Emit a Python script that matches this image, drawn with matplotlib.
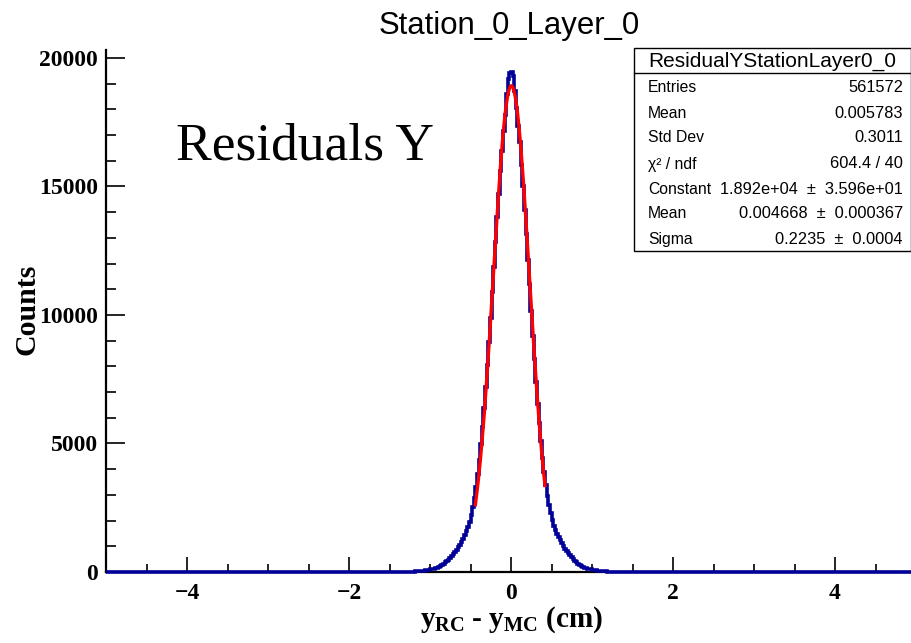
import numpy as np
import matplotlib
matplotlib.use("Agg")
import matplotlib.pyplot as plt
from matplotlib.patches import Rectangle
from matplotlib.lines import Line2D
from matplotlib.ticker import MultipleLocator

plt.rcParams['mathtext.fontset'] = 'custom'
plt.rcParams['mathtext.rm'] = 'Liberation Serif:bold'
plt.rcParams['mathtext.it'] = 'Liberation Serif:bold'
plt.rcParams['mathtext.bf'] = 'Liberation Serif:bold'

# ---------------- data ----------------
x_min, x_max, bin_width = -5.0, 5.0, 0.02

# counts for bins centred at -1.19 ... -0.01
counts_left = [18, 22, 26, 31, 37, 44, 52, 62, 73, 86,
               100, 115, 132, 150, 170, 200, 235, 275, 322, 370,
               425, 485, 550, 620, 700, 785, 875, 970, 1070, 1180,
               1300, 1430, 1580, 1750, 1960, 2220, 2530, 2880, 3300, 3800,
               4350, 4980, 5650, 6400, 7200, 8050, 8950, 9900, 10900, 11850,
               12850, 13800, 14700, 15600, 16400, 17150, 17800, 18600, 19200, 19400]
# counts for bins centred at 0.01 ... 1.19
counts_right = [19450, 19300, 18700, 18050, 17350, 16750, 15850, 15000, 14100, 13150,
                12150, 11200, 10150, 9200, 8300, 7400, 6550, 5800, 5100, 4450,
                3880, 3380, 2950, 2600, 2300, 2030, 1800, 1640, 1490, 1360,
                1240, 1120, 1010, 910, 820, 730, 645, 570, 500, 435,
                375, 325, 280, 240, 205, 170, 150, 132, 115, 100,
                86, 73, 62, 52, 44, 37, 31, 26, 22, 18]
# small far tails (bins just outside +-1.2), rest of range empty
tail_left = [1, 1, 1, 1, 2, 2, 2, 3, 3, 4, 4, 5, 6, 7, 8, 9, 11, 13, 15]
tail_right = [15, 13, 11, 9, 8, 7, 6, 5, 4, 4, 3, 3, 2, 2, 2, 1, 1, 1, 1]

fit_const, fit_mean, fit_sigma = 1.892e4, 0.004668, 0.2235
fit_lo, fit_hi = -0.44, 0.42

stats_title = "ResidualYStationLayer0_0"
stats_labels = ["Entries", "Mean", "Std Dev", "χ² / ndf", "Constant", "Mean", "Sigma"]
stats_values = ["561572", "0.005783", "0.3011", "604.4 / 40",
                "1.892e+04  ±  3.596e+01", "0.004668  ±  0.000367", "0.2235  ±  0.0004"]

# ---------------- build histogram ----------------
edges = np.linspace(x_min, x_max, 501)
counts = np.zeros(500)
c_central = np.array(counts_left + counts_right, dtype=float)
i0 = 250 - len(counts_left)
counts[i0:i0 + len(c_central)] = c_central
counts[i0 - len(tail_left):i0] = tail_left
j0 = i0 + len(c_central)
counts[j0:j0 + len(tail_right)] = tail_right

W, H = 912, 643
fig = plt.figure(figsize=(W / 100, H / 100), dpi=100)
ax = fig.add_axes([106 / W, 71 / H, 810 / W, 522 / H])

ax.stairs(counts, edges, color='#000099', lw=2.6, baseline=None, zorder=5, clip_on=False)

xf = np.linspace(fit_lo, fit_hi, 300)
yf = fit_const * np.exp(-0.5 * ((xf - fit_mean) / fit_sigma) ** 2)
ax.plot(xf, yf, color='#ff0000', lw=2.4, zorder=6)

ax.set_xlim(x_min, x_max)
ax.set_ylim(0, 20311)
for s in ['top', 'right']:
    ax.spines[s].set_visible(False)
for s in ['left', 'bottom']:
    ax.spines[s].set_linewidth(1.6)
    ax.spines[s].set_zorder(4)

ax.xaxis.set_major_locator(MultipleLocator(2))
ax.xaxis.set_minor_locator(MultipleLocator(0.5))
ax.yaxis.set_major_locator(MultipleLocator(5000))
ax.yaxis.set_minor_locator(MultipleLocator(1000))
ax.tick_params(axis='x', which='major', direction='in', length=11, width=1.2, pad=8)
ax.tick_params(axis='x', which='minor', direction='in', length=5.5, width=1.2)
ax.tick_params(axis='y', which='major', direction='in', length=14, width=1.2, pad=6)
ax.tick_params(axis='y', which='minor', direction='in', length=7, width=1.2)
ax.set_xticks([-4, -2, 0, 2, 4])
ax.set_xticklabels(['\u22124', '\u22122', '0', '2', '4'])
for lab in ax.get_xticklabels() + ax.get_yticklabels():
    lab.set_fontfamily('Liberation Serif')
    lab.set_fontweight('bold')
    lab.set_fontsize(17)

fig.text(27 / W, 1 - 309 / H, 'Counts', rotation=90, ha='center', va='center',
         fontfamily='Liberation Serif', fontweight='bold', fontsize=21.5)
fig.text(511 / W, 1 - 620 / H, r'$y_{RC}$ - $y_{MC}$ (cm)', ha='center', va='center',
         fontfamily='Liberation Serif', fontweight='bold', fontsize=21)

fig.text(509 / W, 1 - 26 / H, 'Station_0_Layer_0', ha='center', va='center',
         fontfamily='Liberation Sans', fontsize=22.4)
fig.text(176 / W, 1 - 147 / H, 'Residuals Y', ha='left', va='center',
         fontfamily='Liberation Serif', fontsize=38.5)

# stats box
bx0, by0, bx1, by1 = 634, 48, 911, 251
fig.patches.append(Rectangle((bx0 / W, 1 - by1 / H), (bx1 - bx0) / W, (by1 - by0) / H,
                             transform=fig.transFigure, facecolor='white',
                             edgecolor='black', lw=1.0, zorder=10))
fig.lines.append(Line2D([bx0 / W, bx1 / W], [1 - 73 / H, 1 - 73 / H],
                        transform=fig.transFigure, color='black', lw=1.0, zorder=11))
fig.text((bx0 + bx1) / 2 / W, 1 - 61 / H, stats_title, ha='center', va='center',
         fontfamily='Liberation Sans', fontsize=15, zorder=12)
row_y = [87, 113, 138, 164, 189, 214, 240]
for yy, lab, val in zip(row_y, stats_labels, stats_values):
    fig.text(648 / W, 1 - yy / H, lab, ha='left', va='center',
             fontfamily='Liberation Sans', fontsize=11.3, zorder=12)
    fig.text(903 / W, 1 - yy / H, val, ha='right', va='center',
             fontfamily='Liberation Sans', fontsize=11.8, zorder=12)

fig.savefig('out.png', dpi=100)
